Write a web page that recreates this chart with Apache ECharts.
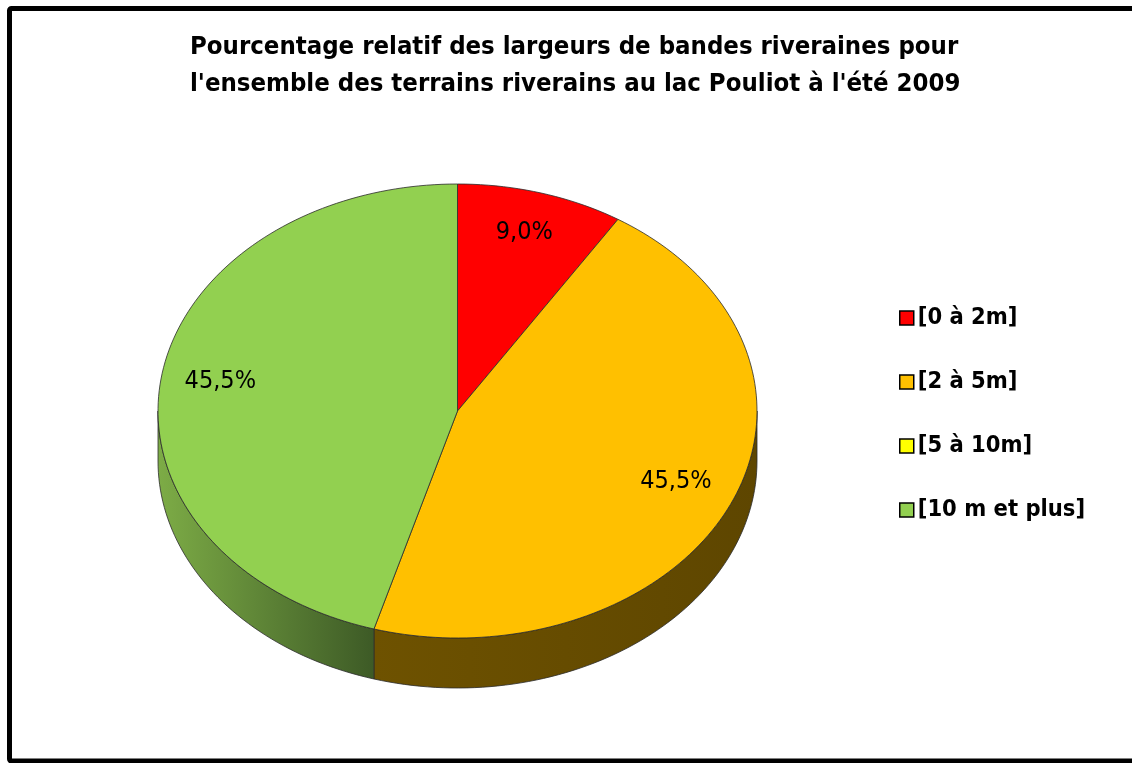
<!DOCTYPE html>
<html>
<head>
<meta charset="utf-8">
<script src="https://cdn.jsdelivr.net/npm/echarts@6/dist/echarts.min.js"></script>
<style>
  html, body { margin: 0; padding: 0; background: #fff; }
  #main { width: 1132px; height: 763px; }
</style>
</head>
<body>
<div id="main"></div>
<script>
// categories / values
var categories = ['[0 à 2m]', '[2 à 5m]', '[5 à 10m]', '[10 m et plus]'];
var values = [9.0, 45.5, 0, 45.5];
var topColors = ['#FF0000', '#FFC000', '#FFFF00', '#92D050'];
var sideColors = [
    ['#8A0000', '#6A0000'],
    ['#6E5200', '#5E4600'],
    ['#8A8A00', '#6A6A00'],
    ['#7DAC46', '#3D5A26']
];

// shape of the tilted pie (px)
var PIE = { cx: 457.5, cy: 411, rx: 299.5, ry: 227, depth: 50 };

var total = values.reduce(function (a, b) { return a + b; }, 0);

function pt(theta, dy) {
    // theta in degrees, clockwise from 12 o'clock
    var r = theta * Math.PI / 180;
    return [PIE.cx + PIE.rx * Math.sin(r), PIE.cy - PIE.ry * Math.cos(r) + (dy || 0)];
}

function arcPoints(a0, a1, dy) {
    var pts = [];
    var n = Math.max(2, Math.ceil((a1 - a0) / 1.5));
    for (var i = 0; i <= n; i++) {
        pts.push(pt(a0 + (a1 - a0) * i / n, dy));
    }
    return pts;
}

function makeRender(idx) {
    return function (params, api) {
        var a0 = api.value(0), a1 = api.value(1), v = api.value(2);
        if (!(a1 > a0)) return { type: 'group', children: [] };
        var children = [];
        // visible side wall: front half (90..270 deg)
        var s0 = Math.max(a0, 90), s1 = Math.min(a1, 270);
        if (s1 > s0) {
            var upper = arcPoints(s0, s1, 0);
            var lower = arcPoints(s0, s1, PIE.depth).reverse();
            children.push({
                type: 'polygon',
                shape: { points: upper.concat(lower) },
                style: {
                    fill: new echarts.graphic.LinearGradient(0, 0, 1, 0, [
                        { offset: 0, color: sideColors[idx][0] },
                        { offset: 1, color: sideColors[idx][1] }
                    ]),
                    stroke: '#2b2b2b',
                    lineWidth: 0.8
                }
            });
        }
        // top face
        var topPts = [[PIE.cx, PIE.cy]].concat(arcPoints(a0, a1, 0));
        children.push({
            type: 'polygon',
            shape: { points: topPts },
            style: { fill: topColors[idx], stroke: '#2b2b2b', lineWidth: 0.8 }
        });
        // percentage label
        var mid = (a0 + a1) / 2 * Math.PI / 180;
        children.push({
            type: 'text',
            x: PIE.cx + PIE.rx * 0.8 * Math.sin(mid),
            y: PIE.cy - PIE.ry * 0.8 * Math.cos(mid) - 4,
            style: {
                text: v.toFixed(1).replace('.', ',') + '%',
                fill: '#000',
                font: '25px "Liberation Sans Narrow", "DejaVu Sans Condensed", sans-serif',
                align: 'center',
                verticalAlign: 'middle'
            }
        });
        return { type: 'group', children: children };
    };
}

var acc = 0;
var series = categories.map(function (name, i) {
    var start = acc / total * 360;
    acc += values[i];
    var end = acc / total * 360;
    return {
        name: name,
        type: 'custom',
        coordinateSystem: 'none',
        renderItem: makeRender(i),
        itemStyle: { color: topColors[i] },
        data: [[start, end, values[i]]],
        silent: true,
        animation: false
    };
});

var myChart = echarts.init(document.getElementById('main'));
myChart.setOption({
    backgroundColor: '#fff',
    animation: false,
    title: {
        text: 'Pourcentage relatif des largeurs de bandes riveraines pour\nl\'ensemble des terrains riverains au lac Pouliot à l\'été 2009',
        left: 190,
        top: 29,
        padding: 0,
        textStyle: {
            fontFamily: '"Liberation Sans Narrow", "DejaVu Sans Condensed", sans-serif',
            fontWeight: 'bold',
            fontSize: 25.5,
            lineHeight: 37,
            color: '#000'
        }
    },
    legend: {
        orient: 'vertical',
        left: 894,
        top: 300,
        itemWidth: 14,
        itemHeight: 14,
        itemGap: 38,
        icon: 'rect',
        itemStyle: { borderColor: '#000', borderWidth: 1.5 },
        textStyle: {
            fontFamily: '"Liberation Sans Narrow", "DejaVu Sans Condensed", sans-serif',
            fontWeight: 'bold',
            fontSize: 23.5,
            lineHeight: 26,
            color: '#000',
            padding: [0, 0, 0, -1]
        },
        selectedMode: false
    },
    graphic: [{
        type: 'rect',
        shape: { x: 9.5, y: 8.5, width: 1140, height: 752.5, r: 2 },
        style: { fill: 'none', stroke: '#000', lineWidth: 5 },
        silent: true
    }],
    series: series
});
</script>
</body>
</html>
